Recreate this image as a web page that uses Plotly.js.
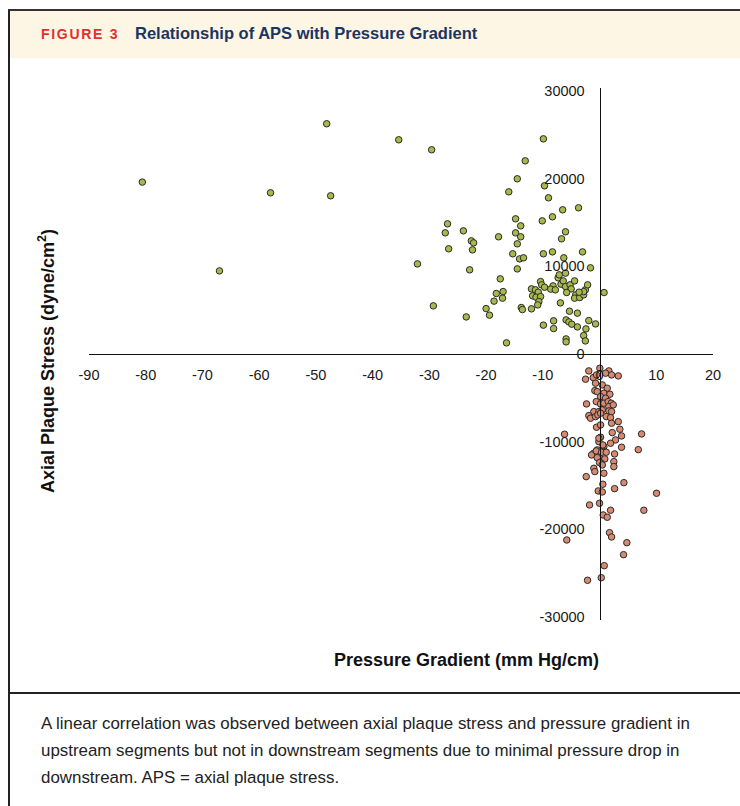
<!DOCTYPE html>
<html>
<head>
<meta charset="utf-8">
<script src="https://cdn.plot.ly/plotly-3.0.1.min.js"></script>
<style>
  html, body { margin: 0; padding: 0; width: 740px; height: 806px; overflow: hidden; background: #ffffff; }
  #frame { position: absolute; left: 8px; top: 9px; width: 740px; height: 820px; border-left: 2px solid #222; border-top: 2px solid #333; box-sizing: border-box; }
  #header { position: absolute; left: 10px; top: 11px; width: 740px; height: 47px; background: #fdf6e4; }
  #fig { position: absolute; left: 41px; top: 26px; font-family: "Liberation Sans", Arial, sans-serif; font-weight: bold; font-size: 14px; letter-spacing: 1.7px; color: #e2302d; }
  #ttl { position: absolute; left: 135px; top: 24px; font-family: "Liberation Sans", Arial, sans-serif; font-weight: bold; font-size: 16.5px; color: #1b3563; }
  #divider { position: absolute; left: 8px; top: 692px; width: 740px; height: 2px; background: #222; }
  #caption { position: absolute; left: 41px; top: 710px; width: 690px; font-family: "Liberation Sans", Arial, sans-serif; font-size: 16.9px; line-height: 27px; color: #222; }
  #plot { position: absolute; left: 0; top: 0; width: 740px; height: 806px; }
</style>
</head>
<body>
<div id="frame"></div>
<div id="header"></div>
<div id="fig">FIGURE 3</div>
<div id="ttl">Relationship of APS with Pressure Gradient</div>
<div id="divider"></div>
<div id="caption">A linear correlation was observed between axial plaque stress and pressure gradient in upstream segments but not in downstream segments due to minimal pressure drop in downstream. APS = axial plaque stress.</div>
<div id="plot"></div>
<script>
// Upstream segments (green): pressure gradient (mm Hg/cm), axial plaque stress (dyne/cm2)
const upstreamGradient = [
  -80.6, -67.0, -58.0, -48.1, -47.4, -35.4, -29.6, -9.9, -13.1, -14.5,
  -9.7, -16.0, -9.0, -6.5, -3.7, -8.3, -10.1, -14.8, -13.9, -26.8,
  -27.2, -24.0, -14.8, -17.8, -6.0, -6.7, -13.9, -22.6, -22.2, -14.5,
  -26.6, -22.4, -15.3, -14.1, -13.4, -9.9, -8.3, -3.0, -6.3, -32.1,
  -14.5, -22.9, -1.6, -17.5, 0.8, -29.3, -23.5, -16.4, -6.9, -18.2,
  -17.0, -17.1, -18.6, -20.0, -19.4, -13.8, -13.6, -12.0, -9.9, -8.1,
  -8.1, -5.3, -3.9, -5.9, -5.4, -4.9, -3.9, -2.4, -1.9, -0.7,
  -2.8, -2.5, -5.9, -5.9, -7.3, -7.1, -10.4, -10.2, -9.7, -12.0,
  -11.3, -10.8, -11.8, -11.2, -10.4, -10.7, -10.9, -8.2, -8.6, -7.8,
  -6.8, -6.4, -6.0, -5.2, -4.4, -5.0, -5.8, -4.2, -4.4, -3.5,
  -2.8, -2.5, -2.8, -2.1, -3.6, -6.0
];
const upstreamStress = [
  19600, 9470, 18380, 26260, 18040, 24430, 23290, 24540, 22030, 19980,
  19180, 18490, 17810, 16440, 16670, 15640, 15180, 15410, 14610, 14840,
  13810, 14040, 13810, 13360, 13930, 13130, 13360, 12900, 12670, 12560,
  11990, 11870, 11420, 10840, 10960, 11420, 11640, 11640, 10960, 10270,
  9700, 9590, 9820, 8560, 7000, 5480, 4220, 1260, 5820, 6890,
  7110, 6360, 6020, 5170, 4420, 5290, 5060, 5140, 3280, 3770,
  2890, 4870, 4650, 3880, 3650, 3390, 3080, 2850, 3800, 3420,
  2090, 1480, 1710, 1370, 8680, 9020, 8250, 7880, 7610, 7420,
  7310, 7040, 6620, 6470, 6540, 5970, 5590, 7760, 7390, 7310,
  7960, 8330, 7680, 7880, 8330, 7420, 7000, 6740, 6360, 6430,
  6740, 7310, 7110, 7880, 7040, 9210
];

// Downstream segments (red)
const downstreamGradient = [
  0.05, -1.89, -2.47, -1.11, -0.53, 1.64, 2.12, 3.30, 1.06, -0.71,
  0.48, 1.36, -0.83, -0.41, 0.76, 1.82, 0.18, 1.06, -2.29, -0.58,
  0.18, 0.76, 1.53, 2.06, 1.64, 2.42, -1.01, -0.12, 0.48, 1.64,
  2.12, -1.89, -1.59, -0.71, -0.30, 0.18, 1.18, 1.94, 2.12, 3.30,
  -0.53, 0.18, 3.58, 2.24, 7.41, -6.17, 0.18, 3.88, 2.82, 1.94,
  -0.12, 3.88, 6.83, 0.76, -0.41, -1.01, -1.41, 0.76, 2.65, -0.12,
  0.93, 2.52, 2.52, 0.30, -1.01, -0.83, 0.76, -2.35, 0.58, 4.29,
  2.65, -0.23, 0.48, 10.05, -1.76, 0.00, 1.94, 7.81, 0.65, 1.36,
  1.76, 2.12, 4.81, -5.77, 4.23, 0.83, -2.12, 0.30, -0.12, 0.58,
  -0.58, 0.35, 1.18, -0.41, 0.00, 0.48
];
const downstreamStress = [
  -1632, -1941, -2888, -2706, -2397, -1941, -2397, -2512, -2203, -3345,
  -3539, -3916, -4190, -4304, -4486, -4601, -4875, -5057, -5708, -5445,
  -5708, -5628, -5445, -5628, -6016, -5822, -6587, -6587, -6393, -6507,
  -6587, -7044, -7341, -7158, -6964, -6770, -7158, -7272, -7911, -7729,
  -8368, -8105, -8596, -8984, -9133, -9167, -9509, -9361, -9818, -10195,
  -10012, -10651, -10925, -10583, -10959, -11336, -11530, -11153, -11416, -11724,
  -11987, -12295, -12866, -12478, -13049, -13436, -13619, -14007, -14875, -14693,
  -15377, -15640, -15754, -15902, -17238, -17044, -17843, -17843, -18380, -18642,
  -20401, -20891, -21542, -21234, -22912, -24167, -25834, -25538, -9623, -10389,
  -11073, -11222, -11222, -11838, -12409, -12672
];

const xTickVals = [-90, -80, -70, -60, -50, -40, -30, -20, -10, 0, 10, 20];
const yTickVals = [-30000, -20000, -10000, 0, 10000, 20000, 30000];

const markerLine = { color: '#2a2a2a', width: 1 };

const traces = [
  {
    type: 'scatter', mode: 'markers', name: 'Upstream',
    x: upstreamGradient, y: upstreamStress,
    marker: { size: 6.5, color: '#a7b94b', line: markerLine },
    cliponaxis: false
  },
  {
    type: 'scatter', mode: 'markers', name: 'Downstream',
    x: downstreamGradient, y: downstreamStress,
    marker: { size: 6.5, color: '#d88a70', line: markerLine },
    cliponaxis: false
  }
];

const yMin = -30365, yMax = 30340, xMin = -90, xMax = 20;
const tickFont = { family: '"Liberation Sans", Arial, sans-serif', size: 14.5, color: '#1a1a1a' };
const titleFont = { family: '"Liberation Sans", Arial, sans-serif', size: 18, color: '#111', weight: 'bold' };

const layout = {
  width: 740, height: 806,
  margin: { l: 89, r: 27, t: 88, b: 186, pad: 0 },
  paper_bgcolor: 'rgba(0,0,0,0)',
  plot_bgcolor: 'rgba(0,0,0,0)',
  showlegend: false,
  xaxis: {
    range: [xMin, xMax],
    anchor: 'free', position: (0 - yMin) / (yMax - yMin),
    showline: true, linecolor: '#111', linewidth: 1.2,
    showgrid: false, zeroline: false,
    ticks: '', tickvals: xTickVals, ticktext: xTickVals.map(String),
    tickfont: tickFont, ticklabelstandoff: 8
  },
  yaxis: {
    range: [yMin, yMax],
    anchor: 'free', position: (0 - xMin) / (xMax - xMin),
    showline: true, linecolor: '#111', linewidth: 1.2,
    showgrid: false, zeroline: false,
    ticks: '', tickvals: yTickVals, ticktext: yTickVals.map(String),
    tickfont: tickFont, ticklabelstandoff: 12
  },
  annotations: [
    {
      xref: 'paper', yref: 'paper', x: (466 - 89) / 624, y: (620 - 660) / 532,
      xanchor: 'center', yanchor: 'middle', showarrow: false,
      text: 'Pressure Gradient (mm Hg/cm)',
      font: titleFont
    },
    {
      xref: 'paper', yref: 'paper', x: (47 - 89) / 624, y: (620 - 361) / 532,
      xanchor: 'center', yanchor: 'middle', showarrow: false, textangle: -90,
      text: 'Axial Plaque Stress (dyne/cm<sup>2</sup>)',
      font: titleFont
    }
  ]
};

Plotly.newPlot('plot', traces, layout, { staticPlot: true, displayModeBar: false });
</script>
</body>
</html>
